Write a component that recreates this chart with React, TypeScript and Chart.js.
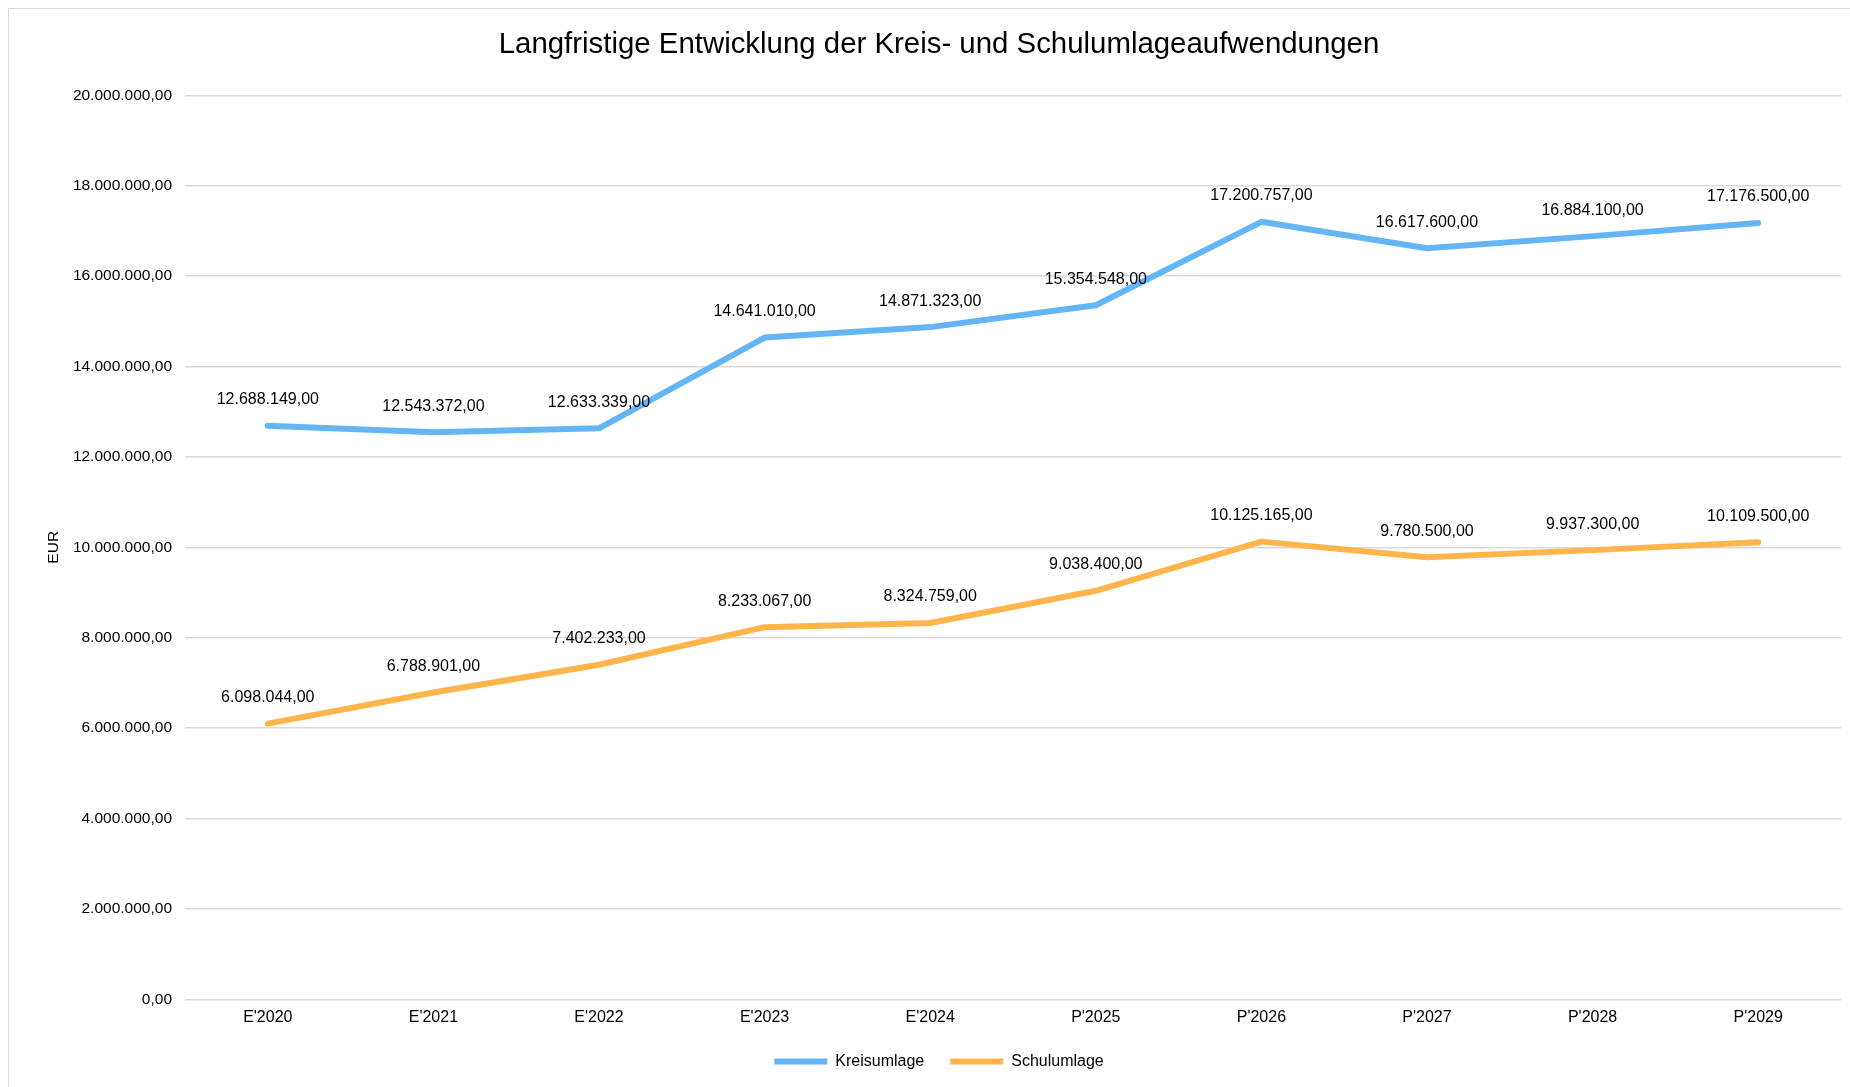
import React, { useEffect, useRef } from "react";
import { Chart, registerables } from "chart.js";

Chart.register(...registerables);

const categories = ["E'2020", "E'2021", "E'2022", "E'2023", "E'2024", "P'2025", "P'2026", "P'2027", "P'2028", "P'2029"];
const kreisumlage = [12688149, 12543372, 12633339, 14641010, 14871323, 15354548, 17200757, 16617600, 16884100, 17176500];
const schulumlage = [6098044, 6788901, 7402233, 8233067, 8324759, 9038400, 10125165, 9780500, 9937300, 10109500];
const seriesNames = ["Kreisumlage", "Schulumlage"];
const chartTitle = "Langfristige Entwicklung der Kreis- und Schulumlageaufwendungen";
const axisTitle = "EUR";

const FONT = "'Liberation Sans', Arial, Helvetica, sans-serif";

function fmt(v: number): string {
  const s = Math.round(v).toString();
  const withDots = s.replace(/\B(?=(\d{3})+(?!\d))/g, ".");
  return withDots + ",00";
}

const dataLabelPlugin = {
  id: "dataLabels",
  afterDatasetsDraw(chart: any) {
    const ctx = chart.ctx;
    ctx.save();
    ctx.font = `16px ${FONT}`;
    ctx.fillStyle = "#000000";
    ctx.textAlign = "center";
    ctx.textBaseline = "middle";
    chart.data.datasets.forEach((ds: any, i: number) => {
      const meta = chart.getDatasetMeta(i);
      meta.data.forEach((pt: any, j: number) => {
        ctx.fillText(fmt(ds.data[j]), pt.x, pt.y - 26);
      });
    });
    ctx.restore();
  },
};

export default function App() {
  const ref = useRef<HTMLCanvasElement | null>(null);
  useEffect(() => {
    if (!ref.current) return;
    const chart = new Chart(ref.current, {
      type: "line",
      data: {
        labels: categories,
        datasets: [
          {
            label: seriesNames[0],
            data: kreisumlage,
            borderColor: "#63B5F5",
            backgroundColor: "#63B5F5",
            borderWidth: 6,
            pointRadius: 0,
            tension: 0,
            borderCapStyle: "round",
            borderJoinStyle: "round",
          },
          {
            label: seriesNames[1],
            data: schulumlage,
            borderColor: "#FFB54C",
            backgroundColor: "#FFB54C",
            borderWidth: 6,
            pointRadius: 0,
            tension: 0,
            borderCapStyle: "round",
            borderJoinStyle: "round",
          },
        ],
      },
      options: {
        animation: false,
        responsive: false,
        maintainAspectRatio: false,
        layout: { padding: { left: 28, right: 28, top: 0, bottom: 27.5 } },
        plugins: {
          title: {
            display: true,
            text: chartTitle,
            color: "#000000",
            font: { family: FONT, size: 29.4, weight: "normal" },
            padding: { top: 18, bottom: 33 },
          },
          legend: {
            display: true,
            position: "bottom",
            labels: {
              usePointStyle: true,
              pointStyle: "line",
              pointStyleWidth: 53,
              color: "#000000",
              font: { family: FONT, size: 16 },
              padding: 26,
            },
          },
          tooltip: { enabled: false },
        },
        scales: {
          x: {
            offset: true,
            grid: { display: false, drawTicks: false },
            border: { display: false },
            ticks: { color: "#000000", font: { family: FONT, size: 16 }, padding: 9, maxRotation: 0, autoSkip: false },
            afterFit: (scale: any) => {
              scale.height = scale.height - 9;
            },
          },
          y: {
            min: 0,
            max: 20000000,
            grid: { color: "#d9d9d9", lineWidth: 1.5, drawTicks: false },
            border: { display: false },
            ticks: {
              stepSize: 2000000,
              color: "#000000",
              font: { family: FONT, size: 15.5 },
              padding: 13,
              callback: (v: any) => fmt(Number(v)),
            },
            title: {
              display: true,
              text: axisTitle,
              color: "#000000",
              font: { family: FONT, size: 15.5 },
              padding: { top: 7, bottom: 0 },
            },
            afterFit: (scale: any) => {
              scale.width = 148;
            },
          },
        },
      },
      plugins: [dataLabelPlugin],
    });
    return () => chart.destroy();
  }, []);

  return (
    <div style={{ position: "fixed", left: 0, top: 0, width: "100vw", height: "100vh", overflow: "hidden", background: "#ffffff" }}>
      <div
        style={{
          position: "absolute",
          left: 8,
          top: 8,
          width: 1860,
          height: 1098,
          border: "1px solid #d9d9d9",
          background: "#ffffff",
        }}
      >
        <canvas ref={ref} width={1860} height={1098} style={{ display: "block" }} />
      </div>
    </div>
  );
}
